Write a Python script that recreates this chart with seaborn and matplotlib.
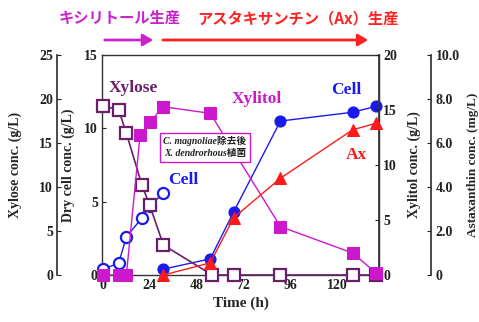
import matplotlib
matplotlib.use("Agg")
import matplotlib.pyplot as plt
import seaborn as sns
from matplotlib.ticker import FuncFormatter, MultipleLocator
from matplotlib.patches import FancyArrowPatch

sns.set_theme(style="white")
SERIF = ["Liberation Serif", "DejaVu Serif"]
CJK = ["Noto Sans CJK JP", "DejaVu Sans"]
plt.rcParams["font.family"] = SERIF
plt.rcParams["font.weight"] = "bold"

# ---- data ----
xylose_t = [0, 8, 12, 20, 24, 31, 56, 67, 91, 128, 140]
xylose_v = [19.2, 18.8, 16.1, 10.2, 7.9, 3.4, 0, 0, 0, 0, 0]

xylitol_t = [0, 8, 12, 19, 24, 31, 55, 91, 128, 140]
xylitol_v = [0, 0, 0, 12.7, 13.9, 15.3, 14.7, 4.4, 2.0, 0.2]

cell1_t = [0, 8, 12, 20, 24, 31]          # C. magnoliae phase
cell1_v = [0.4, 0.8, 2.6, 3.9, 4.7, 5.6]
cell2_t = [31, 55, 67, 91, 128, 140]      # X. dendrorhous phase
cell2_v = [0.4, 1.1, 4.3, 10.5, 11.1, 11.5]

ax_t = [31, 55, 67, 91, 128, 140]
ax_v = [0.0, 0.55, 2.6, 4.4, 6.6, 6.9]

time_ticks = [0, 24, 48, 72, 96, 120]

C_XYLOSE = "#6a1f6a"
C_XYLITOL = "#cc18cc"
C_CELL = "#1a1aee"
C_AX = "#ff1a1a"

fig = plt.figure(figsize=(4.79, 3.22), dpi=100)
ax = fig.add_axes([0.213, 0.146, 0.578, 0.683])
ax_xyl = ax.twinx()
ax_xit = ax.twinx()
ax_asx = ax.twinx()

tick_kw = dict(labelsize=10, direction="in", length=3, width=0.8, pad=3)
LABEL_FS = 10

# main axis: dry cell
ax.set_xlim(-0.5, 141.5)
ax.set_ylim(0, 15)
ax.yaxis.set_major_locator(MultipleLocator(5))
ax.set_xticks(time_ticks)
ax.tick_params(axis="both", colors="#222222", **tick_kw)
ax.set_xlabel("Time (h)", fontsize=11, fontweight="bold", labelpad=3)
ax.set_ylabel("Dry cell conc. (g/L)", fontsize=LABEL_FS, fontweight="bold")
ax.yaxis.set_label_coords(-0.097, 0.5)
for s in ax.spines.values():
    s.set_color("#333333")
    s.set_linewidth(1.0)

# xylose axis, offset left
ax_xyl.set_ylim(0, 25)
ax_xyl.yaxis.set_major_locator(MultipleLocator(5))
ax_xyl.yaxis.tick_left()
ax_xyl.yaxis.set_label_position("left")
ax_xyl.spines["left"].set_position(("axes", -0.162))
for k in ("right", "top", "bottom"):
    ax_xyl.spines[k].set_visible(False)
ax_xyl.spines["left"].set_visible(True)
ax_xyl.spines["left"].set_color("#333333")
ax_xyl.tick_params(axis="y", colors="#222222", **tick_kw)
ax_xyl.set_ylabel("Xylose conc. (g/L)", fontsize=LABEL_FS, fontweight="bold")
ax_xyl.yaxis.set_label_coords(-0.289, 0.5)

# xylitol axis, right
ax_xit.set_ylim(0, 20)
ax_xit.yaxis.set_major_locator(MultipleLocator(5))
for k in ("left", "top", "bottom"):
    ax_xit.spines[k].set_visible(False)
ax_xit.spines["right"].set_color("#333333")
ax_xit.tick_params(axis="y", colors="#222222", **tick_kw)
ax_xit.set_ylabel("Xylitol conc. (g/L)", fontsize=LABEL_FS, fontweight="bold", rotation=90)
ax_xit.yaxis.set_label_coords(1.105, 0.5)

# astaxanthin axis, offset right
ax_asx.set_ylim(0, 10)
ax_asx.yaxis.set_major_locator(MultipleLocator(2))
ax_asx.spines["right"].set_position(("axes", 1.19))
for k in ("left", "top", "bottom"):
    ax_asx.spines[k].set_visible(False)
ax_asx.spines["right"].set_color("#333333")
ax_asx.tick_params(axis="y", colors="#222222", **tick_kw)
ax_asx.yaxis.set_major_formatter(FuncFormatter(lambda v, p: "0" if v == 0 else f"{v:.1f}"))
ax_asx.set_ylabel("Astaxanthin conc. (mg/L)", fontsize=9.5, fontweight="bold", rotation=90)
ax_asx.yaxis.set_label_coords(1.318, 0.5)

for a in (ax, ax_xyl, ax_xit, ax_asx):
    for lab in a.get_yticklabels() + a.get_xticklabels():
        lab.set_fontweight("bold")

# ---- series ----
sns.lineplot(x=xylose_t, y=xylose_v, ax=ax_xyl, color=C_XYLOSE, lw=1.2,
             marker="s", ms=9, mfc="white", mec=C_XYLOSE, mew=1.6, clip_on=False, zorder=3)
sns.lineplot(x=xylitol_t, y=xylitol_v, ax=ax_xit, color=C_XYLITOL, lw=1.0,
             marker="s", ms=9, mfc=C_XYLITOL, mec=C_XYLITOL, clip_on=False, zorder=3)
sns.lineplot(x=cell1_t, y=cell1_v, ax=ax, color=C_CELL, lw=1.0,
             marker="o", ms=8, mfc="white", mec=C_CELL, mew=1.6, clip_on=False, zorder=3)
sns.lineplot(x=cell2_t, y=cell2_v, ax=ax, color=C_CELL, lw=1.0,
             marker="o", ms=8, mfc=C_CELL, mec=C_CELL, clip_on=False, zorder=3)
sns.lineplot(x=ax_t, y=ax_v, ax=ax_asx, color=C_AX, lw=1.0,
             marker="^", ms=9, mfc=C_AX, mec=C_AX, clip_on=False, zorder=3)

for a in (ax, ax_xyl, ax_xit, ax_asx):
    a.set_xlim(-0.5, 141.5)
    if a.get_legend():
        a.get_legend().remove()
ax_xyl.set_xlabel("")
ax_xit.set_xlabel("")
ax_asx.set_xlabel("")

# ---- in-plot labels ----
lab_kw = dict(fontsize=12.5, fontweight="bold", ha="center", va="center", transform=ax.transAxes)
ax_asx.text((133 - 102) / 277, (275 - 88) / 220, "Xylose", color=C_XYLOSE, **lab_kw)
ax_asx.text((257 - 102) / 277, (275 - 99) / 220, "Xylitol", color=C_XYLITOL, **lab_kw)
ax_asx.text((183 - 102) / 277, (275 - 180) / 220, "Cell", color=C_CELL, **lab_kw)
ax_asx.text((346 - 102) / 277, (275 - 90) / 220, "Cell", color=C_CELL, **lab_kw)
ax_asx.text((357 - 102) / 277, (275 - 155) / 220, "Ax", color=C_AX, **lab_kw)
ax_asx.text((205 - 102) / 277, (275 - 147) / 220,
            "C. magnoliae除去後\nX. dendrorhous植菌",
            family=["Liberation Serif", "Noto Sans CJK JP"], style="italic",
            fontsize=7, fontweight="bold", ha="center", va="center", color="#222222",
            linespacing=1.3, transform=ax.transAxes,
            bbox=dict(boxstyle="square,pad=0.4", fc="white", ec=C_XYLITOL, lw=1.0))

# ---- header with phase arrows ----
fig.text(120 / 479, 1 - 18 / 322, "キシリトール生産", family=CJK, fontsize=11,
         fontweight="bold", color="#cc22cc", ha="center", va="center")
fig.text(298 / 479, 1 - 18 / 322, "アスタキサンチン（Ax）生産", family=CJK, fontsize=11,
         fontweight="bold", color="#ff2222", ha="center", va="center")
fig.add_artist(FancyArrowPatch(
    (102 / 479, 1 - 40 / 322), (156 / 479, 1 - 40 / 322), transform=fig.transFigure,
    arrowstyle="-|>,head_length=6,head_width=3.5", color="#cc22cc", lw=2))
fig.add_artist(FancyArrowPatch(
    (160 / 479, 1 - 40 / 322), (371 / 479, 1 - 40 / 322), transform=fig.transFigure,
    arrowstyle="-|>,head_length=6,head_width=3.5", color="#ff2222", lw=2))

fig.savefig("out.png", dpi=100, facecolor="white")
